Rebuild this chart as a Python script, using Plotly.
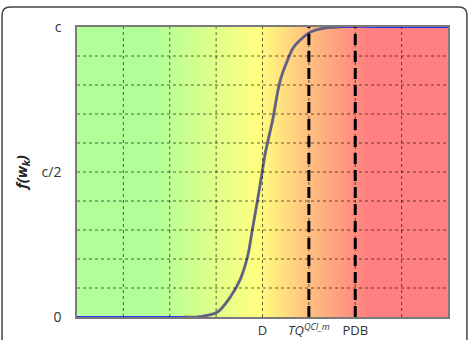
import numpy as np
import plotly.graph_objects as go

# ---- data ----
x_curve = [0.0, 1.0, 2.0, 2.3, 2.59, 2.8, 3.03, 3.31, 3.52, 3.68, 3.78, 3.89, 4.0, 4.06, 4.22,
           4.32, 4.39, 4.54, 4.67, 4.89, 5.04, 5.32, 5.69, 7.0, 8.0]
y_curve = [0.0, 0.0, 0.0, 0.0, 0.0, 0.005, 0.017, 0.07, 0.13, 0.21, 0.30, 0.40, 0.507, 0.565, 0.68,
           0.77, 0.82, 0.886, 0.93, 0.966, 0.983, 0.996, 1.0, 1.0, 1.0]
thresholds = [5, 6]               # TQ^{QCI_m}, PDB
x_tickvals = [4, 5, 6]
x_ticktext = ["D", "<i>TQ</i><sup><i>QCI_m</i></sup>", "PDB"]
y_tickvals = [0, 0.5, 1]
y_ticktext = ["0", "c/2", "c"]
grid_x = [1, 2, 3, 4, 5, 6, 7]
grid_y = [0.1, 0.2, 0.3, 0.4, 0.5, 0.6, 0.7, 0.8, 0.9]
x_range = [0, 8]
y_range = [0, 1]

fig = go.Figure()

# background gradient green -> yellow -> orange -> red
bx = np.linspace(x_range[0], x_range[1], 161)
fig.add_trace(go.Heatmap(
    x=bx, y=y_range, z=[bx / x_range[1], bx / x_range[1]],
    zmin=0, zmax=1, showscale=False, hoverinfo="skip", zsmooth="best",
    colorscale=[[0, "rgb(176,255,152)"], [0.2, "rgb(176,255,152)"],
                [0.4875, "rgb(255,255,128)"], [0.625, "rgb(255,190,128)"],
                [0.78, "rgb(255,128,128)"], [1, "rgb(255,128,128)"]]))

# grid lines above background
shapes = []
for gx in grid_x:
    shapes.append(dict(type="line", xref="x", yref="y", x0=gx, x1=gx, y0=y_range[0], y1=y_range[1],
                       line=dict(color="rgba(0,0,0,0.6)", width=1, dash="3px,3px"), layer="above"))
for gy in grid_y:
    shapes.append(dict(type="line", xref="x", yref="y", x0=x_range[0], x1=x_range[1], y0=gy, y1=gy,
                       line=dict(color="rgba(0,0,0,0.6)", width=1, dash="3px,3px"), layer="above"))

# outer rounded panel border (paper coords)
L, R, T, B = -0.202, 1.051, 1.069, -0.12
rx, ry = 0.022, 0.028
path = (f"M {L},{B} L {L},{T-ry} Q {L},{T} {L+rx},{T} L {R-rx},{T} Q {R},{T} {R},{T-ry} L {R},{B}")
shapes.append(dict(type="path", xref="paper", yref="paper", path=path,
                   line=dict(color="#444444", width=1.5), layer="above"))

# blue base line (whole function)
fig.add_trace(go.Scatter(x=x_curve, y=y_curve, mode="lines", line=dict(color="#3030ff", width=2, shape="spline"),
                         hoverinfo="skip", showlegend=False))
# grey curve over transition part
i0 = 3
i1 = 23
fig.add_trace(go.Scatter(x=x_curve[i0:i1], y=y_curve[i0:i1], mode="lines",
                         line=dict(color="#6a6a6a", width=3, shape="spline"), opacity=0.8,
                         hoverinfo="skip", showlegend=False))

# threshold dashed lines
for t in thresholds:
    fig.add_trace(go.Scatter(x=[t, t], y=y_range, mode="lines",
                             line=dict(color="black", width=3, dash="11px,6px"),
                             hoverinfo="skip", showlegend=False))

fig.update_layout(
    width=474, height=340,
    margin=dict(l=77, r=26, t=27, b=23, autoexpand=False),
    paper_bgcolor="white", plot_bgcolor="white",
    showlegend=False, shapes=shapes,
    font=dict(family="Open Sans", size=13, color="#333333"),
    xaxis=dict(range=x_range, tickvals=x_tickvals, ticktext=x_ticktext, showgrid=False, zeroline=False,
               ticks="", showline=True, mirror=True, linecolor="#7a7a7a", linewidth=1.5, automargin=False,
               tickfont=dict(size=13, color="#333333"), ticklabelstandoff=1),
    yaxis=dict(range=y_range, tickvals=y_tickvals, ticktext=y_ticktext, showgrid=False, zeroline=False,
               ticks="", showline=True, mirror=True, linecolor="#7a7a7a", linewidth=1.5, automargin=False,
               tickfont=dict(size=14, color="#333333"), ticklabelstandoff=11,
               title=dict(text="<b><i>f(w<sub>k</sub>)</i></b>", font=dict(size=15, color="#222222"),
                          standoff=10)),
)

fig.write_html("out.html")
